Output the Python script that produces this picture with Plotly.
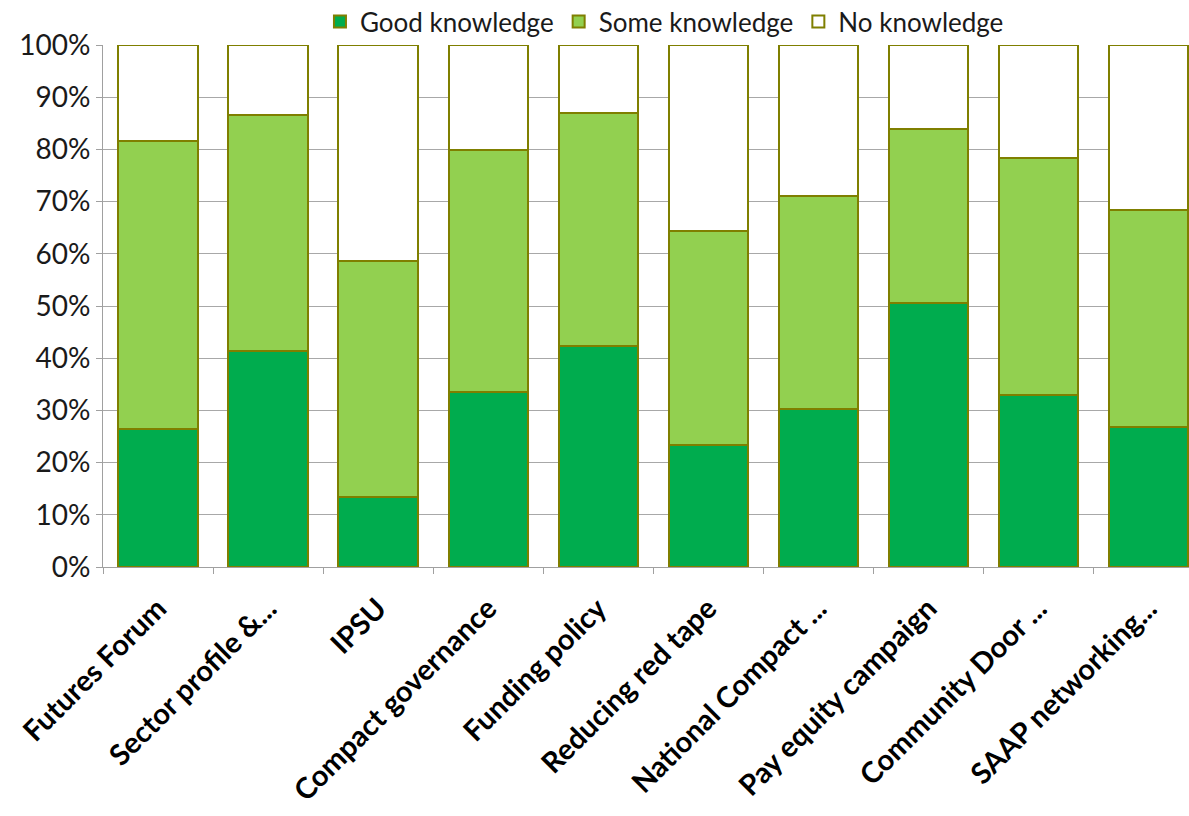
import plotly.graph_objects as go

categories = [
    "Futures Forum", "Sector profile &...", "IPSU", "Compact governance",
    "Funding policy", "Reducing red tape", "National Compact ...",
    "Pay equity campaign", "Community Door ...", "SAAP networking...",
]
good = [26.4, 41.3, 13.4, 33.5, 42.3, 23.3, 30.2, 50.5, 32.9, 26.8]
some = [55.2, 45.3, 45.3, 46.4, 44.7, 41.1, 40.9, 33.4, 45.5, 41.5]
none_ = [round(100 - g - s, 1) for g, s in zip(good, some)]

outline = dict(color="#7F7F00", width=2)
series = [
    ("Good knowledge", good, "#00AC4E"),
    ("Some knowledge", some, "#92D050"),
    ("No knowledge", none_, "#FFFFFF"),
]

fig = go.Figure()
for name, vals, col in series:
    fig.add_trace(go.Bar(
        name=name, x=categories, y=vals,
        marker=dict(color=col, line=outline),
    ))

fig.update_layout(
    barmode="stack",
    bargap=0.28,
    width=1189, height=816,
    margin=dict(l=103, r=0, t=45, b=249, autoexpand=False),
    paper_bgcolor="white", plot_bgcolor="white",
    font=dict(family="Lato, sans-serif", size=24, color="#1a1a1a"),
    legend=dict(
        orientation="h", x=0.517, xanchor="center", y=1.0, yanchor="bottom",
        font=dict(size=26), traceorder="normal",
        itemwidth=30,
    ),
    showlegend=True,
)
fig.update_xaxes(
    range=[-0.5, 9.37],
    showline=True, linecolor="#a0a0a0", linewidth=1,
    ticks="outside", ticklen=6, tickcolor="#a0a0a0", tickson="boundaries",
    tickangle=-45, ticklabelstandoff=12,
    tickfont=dict(size=29, family="Lato, sans-serif", weight="bold", color="#000000"),
    showgrid=False,
)
fig.update_yaxes(
    range=[0, 100], dtick=10, ticksuffix="%",
    showline=True, linecolor="#a0a0a0", linewidth=1,
    ticks="outside", ticklen=6, tickcolor="#a0a0a0",
    showgrid=True, gridcolor="#a8a8a8", gridwidth=1,
    tickfont=dict(size=28),
    zeroline=False,
)

fig.write_html("out.html")
